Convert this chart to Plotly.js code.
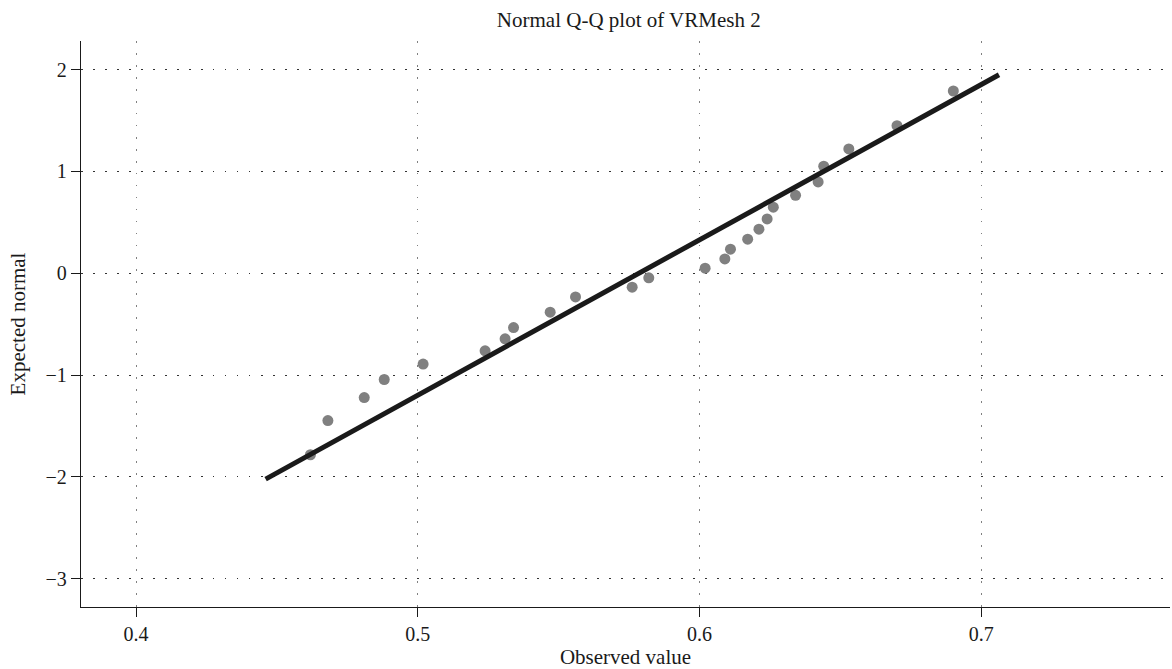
<!DOCTYPE html>
<html>
<head>
<meta charset="utf-8">
<script src="https://cdn.plot.ly/plotly-3.0.1.min.js"></script>
<style>
html,body{margin:0;padding:0;background:#fff;}
#chart{width:1172px;height:669px;}
</style>
</head>
<body>
<div id="chart"></div>
<script>
var observed = [0.4619, 0.4681, 0.4810, 0.4881, 0.5019, 0.5239, 0.5310, 0.5340, 0.5470, 0.5560,
                0.5761, 0.5820, 0.6020, 0.6090, 0.6110, 0.6171, 0.6211, 0.6240, 0.6262, 0.6341,
                0.6421, 0.6441, 0.6530, 0.6701, 0.6901];
var expected = [-1.783, -1.447, -1.221, -1.044, -0.893, -0.762, -0.645, -0.534, -0.383, -0.233,
                -0.137, -0.046, 0.049, 0.140, 0.236, 0.334, 0.432, 0.533, 0.648, 0.765,
                0.896, 1.050, 1.220, 1.448, 1.789];
// Reference line end points
var lineX = [0.4460, 0.7063];
var lineY = [-2.022, 1.949];

var xTicks = [0.4, 0.5, 0.6, 0.7];
var xTickText = ['0.4', '0.5', '0.6', '0.7'];
var yTicks = [-3, -2, -1, 0, 1, 2];
var yTickText = ['\u22123', '\u22122', '\u22121', '0', '1', '2'];

var font = 'Liberation Serif, Times New Roman, serif';

var traces = [
  {
    x: observed, y: expected, type: 'scatter', mode: 'markers',
    marker: {color: '#808080', size: 11, line: {width: 0}},
    hoverinfo: 'x+y', showlegend: false
  },
  {
    x: lineX, y: lineY, type: 'scatter', mode: 'lines',
    line: {color: '#1a1a1a', width: 5},
    hoverinfo: 'skip', showlegend: false
  }
];

var layout = {
  width: 1172, height: 669,
  margin: {l: 81, r: 2, t: 41, b: 62, pad: 0},
  paper_bgcolor: '#ffffff', plot_bgcolor: '#ffffff',
  font: {family: font, size: 20, color: '#1a1a1a'},
  title: {text: 'Normal Q-Q plot of VRMesh 2', font: {family: font, size: 21, color: '#1a1a1a'},
          x: 0.503, xref: 'paper', xanchor: 'center', y: 0.970, yref: 'container', yanchor: 'middle'},
  xaxis: {
    range: [0.38047, 0.767], tickvals: xTicks, ticktext: xTickText,
    showline: true, linecolor: '#1a1a1a', linewidth: 1.3, mirror: false,
    ticks: 'outside', ticklen: 9, tickwidth: 1.3, tickcolor: '#1a1a1a',
    showgrid: true, gridcolor: '#808080', gridwidth: 1.2, griddash: '1.5px,10.5px',
    zeroline: false, tickfont: {family: font, size: 20},
    title: {text: 'Observed value', font: {family: font, size: 21}, standoff: 2}
  },
  yaxis: {
    range: [-3.278, 2.28], tickvals: yTicks, ticktext: yTickText,
    showline: true, linecolor: '#1a1a1a', linewidth: 1.3, mirror: false,
    ticks: 'outside', ticklen: 9, tickwidth: 1.3, tickcolor: '#1a1a1a',
    showgrid: true, gridcolor: '#333333', gridwidth: 1.2, griddash: '1.5px,10.5px',
    zeroline: false, tickfont: {family: font, size: 20},
    title: {text: 'Expected normal', font: {family: font, size: 21}, standoff: 14}
  },
  hovermode: 'closest'
};

Plotly.newPlot('chart', traces, layout, {displayModeBar: false});
</script>
</body>
</html>
